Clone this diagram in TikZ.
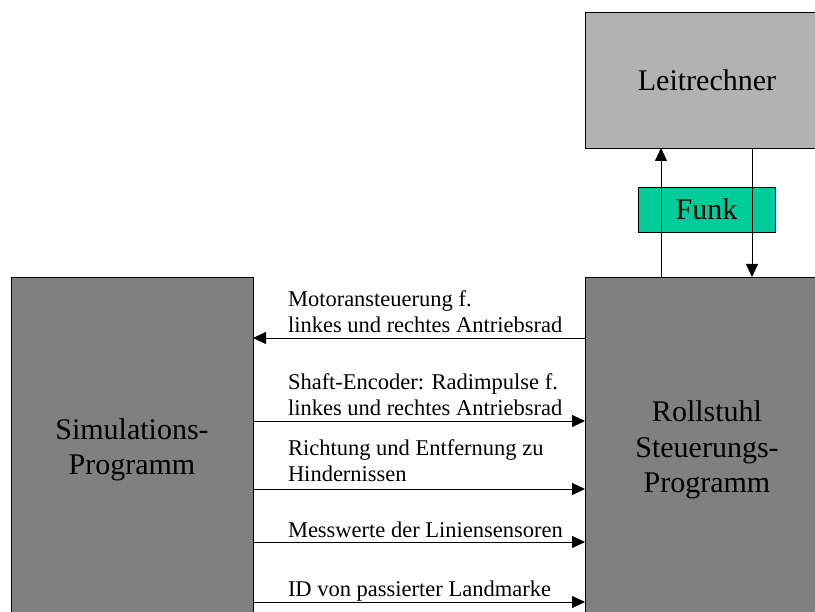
\documentclass[tikz,border=0pt]{standalone}
\usepackage{fontspec}
\setmainfont{Liberation Serif}
\usetikzlibrary{arrows.meta}
\definecolor{lrgray}{HTML}{B2B2B2}
\definecolor{boxgray}{HTML}{808080}
\definecolor{funkgreen}{HTML}{00CC99}
\begin{document}
\begin{tikzpicture}[x=1pt,y=-1pt,
  box/.style={draw=black,line width=0.8pt,rectangle,inner sep=0pt,outer sep=0pt,align=center,
    font=\fontsize{30}{35.5}\selectfont},
  lbl/.style={anchor=base west,inner sep=0pt,outer sep=0pt,align=left,
    font=\fontsize{22.5}{26}\selectfont},
  conn/.style={line width=0.8pt,-{Triangle[length=13pt,width=12pt]}}]
\useasboundingbox (0,0) rectangle (815,612);
\clip (0,0) rectangle (815,612);
\fill[white] (0,0) rectangle (815,612);
\node[box,fill=lrgray,minimum width=244pt,minimum height=136pt] (lr) at (707,80) {Leitrechner};
\node[box,fill=funkgreen,minimum width=137pt,minimum height=45pt] (funk) at (706.5,209.5) {Funk};
\node[box,fill=boxgray,minimum width=244pt,minimum height=346pt] (rs) at (707,450) {Rollstuhl\\Steuerungs-\\Programm};
\node[box,fill=boxgray,minimum width=242pt,minimum height=346pt] (sim) at (132,450) {Simulations-\\Programm};
% vertical connectors via Funk
\draw[conn] (rs.north -| 661,0) -- (lr.south -| 661,0);
\draw[conn] (lr.south -| 752,0) -- (rs.north -| 752,0);
% horizontal connectors
\draw[conn] (rs.west |- 0,338) -- (sim.east |- 0,338);
\draw[conn] (sim.east |- 0,421) -- (rs.west |- 0,421);
\draw[conn] (sim.east |- 0,489) -- (rs.west |- 0,489);
\draw[conn] (sim.east |- 0,542) -- (rs.west |- 0,542);
\draw[conn] (sim.east |- 0,602) -- (rs.west |- 0,602);
% labels (base = last line)
\node[lbl] (l1) at (288,333) {Motoransteuerung f.\\linkes und rechtes Antriebsrad};
\node[lbl] (l2) at (288,416) {Shaft-Encoder: Radimpulse f.\\linkes und rechtes Antriebsrad};
\node[lbl] (l3) at (288,482) {Richtung und Entfernung zu\\Hindernissen};
\node[lbl] (l4) at (288,537) {Messwerte der Liniensensoren};
\node[lbl] (l5) at (288,596) {ID von passierter Landmarke};
\end{tikzpicture}
\end{document}
